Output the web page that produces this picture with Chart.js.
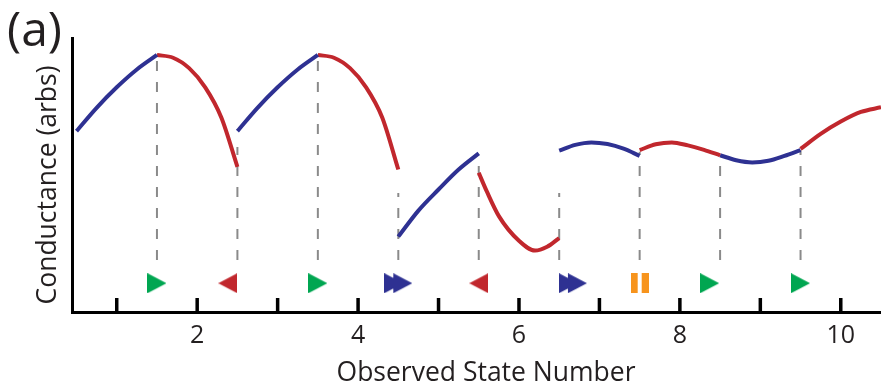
<!DOCTYPE html>
<html>
<head>
<meta charset="utf-8">
<script src="https://cdn.jsdelivr.net/npm/chart.js@4.4.0/dist/chart.umd.min.js"></script>
<style>
  html, body { margin: 0; padding: 0; background: #ffffff; }
  #wrap { width: 881px; height: 392px; overflow: hidden; }
</style>
</head>
<body>
<div id="wrap"><canvas id="chart" width="881" height="392"></canvas></div>
<script>
// ---- data -------------------------------------------------------------
const stateTicks = [1, 2, 3, 4, 5, 6, 7, 8, 9, 10];
const labelledTicks = [2, 4, 6, 8, 10];

// conductance traces, [state number, conductance]
const blueTrace1 = [[0.5, 6.6], [0.75, 7.45], [1.0, 8.2], [1.25, 8.85], [1.5, 9.38]];
const redTrace1  = [[1.5, 9.38], [1.7, 9.28], [1.9, 8.9], [2.1, 8.2], [2.3, 7.1], [2.5, 5.3]];
const blueTrace2 = [[2.5, 6.6], [2.75, 7.45], [3.0, 8.2], [3.25, 8.85], [3.5, 9.38]];
const redTrace2  = [[3.5, 9.38], [3.7, 9.28], [3.9, 8.9], [4.1, 8.2], [4.3, 7.1], [4.5, 5.2]];
const blueTrace3 = [[4.5, 2.75], [4.75, 3.7], [5.0, 4.47], [5.25, 5.2], [5.5, 5.79]];
const redTrace3  = [[5.5, 5.08], [5.6, 4.4], [5.75, 3.5], [6.0, 2.6], [6.2, 2.24], [6.35, 2.38], [6.5, 2.7]];
const blueTrace4 = [[6.5, 5.89], [6.7, 6.1], [6.9, 6.19], [7.1, 6.13], [7.3, 5.96], [7.5, 5.7]];
const redTrace4  = [[7.5, 5.91], [7.7, 6.12], [7.9, 6.19], [8.1, 6.08], [8.3, 5.92], [8.5, 5.72]];
const blueTrace5 = [[8.5, 5.72], [8.7, 5.54], [8.9, 5.46], [9.1, 5.52], [9.3, 5.7], [9.5, 5.91]];
const redTrace5  = [[9.5, 5.95], [9.75, 6.5], [10.0, 6.95], [10.25, 7.3], [10.5, 7.47]];

// state boundaries (dashed guides)
const boundaryX   = [1.5, 2.5, 3.5, 4.5, 5.5, 6.5, 7.5, 8.5, 9.5];
const boundaryTop = [9.38, 6.02, 9.38, 4.34, 5.44, 4.34, 5.85, 5.72, 5.91];
const boundaryBottom = 1.9;

// transport symbols under each state
const markerLevel = 1.05;
const playMarks = [1.5, 3.5, 8.37, 9.5];
const reverseMarks = [2.38, 5.5];
const fastForwardMarks = [4.5, 6.67];
const pauseMarks = [7.5];

// ---- styling ----------------------------------------------------------
const BLUE = '#2e3192';
const RED = '#c1272d';
const GREEN = '#00a651';
const ORANGE = '#f7941d';
const GUIDE = '#8a8a8a';
const INK = '#231f20';
const FONT = '"Open Sans", "Noto Sans", sans-serif';

function icon(w, h, color, paint) {
  const c = document.createElement('canvas');
  c.width = w; c.height = h;
  const g = c.getContext('2d');
  g.fillStyle = color;
  paint(g, w, h);
  return c;
}
function tri(g, x0, x1, h) {
  g.beginPath(); g.moveTo(x0, 0); g.lineTo(x1, h / 2); g.lineTo(x0, h); g.closePath(); g.fill();
}
const playIcon = icon(19, 20, GREEN, (g, w, h) => tri(g, 0, w, h));
const reverseIcon = icon(19, 20, RED, (g, w, h) => tri(g, w, 0, h));
const fastForwardIcon = icon(28, 20, BLUE, (g, w, h) => { tri(g, 0, 19, h); tri(g, 9, 28, h); });
const pauseIcon = icon(18, 20, ORANGE, (g, w, h) => { g.fillRect(0, 0, 7, h); g.fillRect(11, 0, 7, h); });

const toPoints = pts => pts.map(([x, y]) => ({ x, y }));

function trace(pts, color) {
  return {
    data: toPoints(pts), borderColor: color, borderWidth: 4, borderCapStyle: 'butt',
    pointRadius: 0, cubicInterpolationMode: 'monotone', fill: false, order: 0
  };
}
function guide(x, top) {
  return {
    data: [{ x, y: boundaryBottom }, { x, y: top }],
    borderColor: GUIDE, borderWidth: 2, borderDash: [10, 11], borderCapStyle: 'butt',
    pointRadius: 0, fill: false, order: 3
  };
}
function marks(xs, style) {
  return {
    data: xs.map(x => ({ x, y: markerLevel })), showLine: false,
    pointStyle: style, pointRadius: 10, order: 1
  };
}

const datasets = [
  trace(blueTrace1, BLUE), trace(redTrace1, RED),
  trace(blueTrace2, BLUE), trace(redTrace2, RED),
  trace(blueTrace3, BLUE), trace(redTrace3, RED),
  trace(blueTrace4, BLUE), trace(redTrace4, RED),
  trace(blueTrace5, BLUE), trace(redTrace5, RED),
  ...boundaryX.map((x, i) => guide(x, boundaryTop[i])),
  marks(playMarks, playIcon),
  marks(reverseMarks, reverseIcon),
  marks(fastForwardMarks, fastForwardIcon),
  marks(pauseMarks, pauseIcon)
];

// tick marks pointing into the plot, axis titles and the panel tag
const decorations = {
  id: 'decorations',
  afterDatasetsDraw(chart) {
    const { ctx, chartArea, scales: { x } } = chart;
    ctx.save();
    ctx.strokeStyle = '#000';
    ctx.lineWidth = 3.5;
    stateTicks.forEach(v => {
      const px = x.getPixelForValue(v);
      ctx.beginPath();
      ctx.moveTo(px, chartArea.bottom);
      ctx.lineTo(px, chartArea.bottom - 14);
      ctx.stroke();
    });
    ctx.restore();
  },
  afterDraw(chart) {
    const ctx = chart.ctx;
    ctx.save();
    ctx.fillStyle = INK;

    ctx.font = '48px ' + FONT;
    ctx.textAlign = 'left';
    ctx.textBaseline = 'alphabetic';
    ctx.fillText('(a)', 7, 46);

    ctx.font = '26.5px ' + FONT;
    ctx.textAlign = 'center';
    ctx.textBaseline = 'middle';
    ctx.fillText('Observed State Number', 486, 373);

    ctx.translate(48, 185);
    ctx.rotate(-Math.PI / 2);
    ctx.font = '26.5px ' + FONT;
    ctx.fillText('Conductance (arbs)', 0, 0);
    ctx.restore();
  }
};

new Chart(document.getElementById('chart'), {
  type: 'line',
  data: { datasets },
  plugins: [decorations],
  options: {
    responsive: false,
    animation: false,
    layout: { autoPadding: false, padding: { left: 0, right: 0, top: 38, bottom: 0 } },
    plugins: { legend: { display: false }, tooltip: { enabled: false } },
    scales: {
      x: {
        type: 'linear', min: 0.444, max: 10.5,
        afterFit(scale) { scale.height = 80; scale.paddingLeft = 0; scale.paddingRight = 0; },
        grid: { display: false, drawTicks: false },
        border: { display: true, color: '#000', width: 3 },
        ticks: {
          stepSize: 1, includeBounds: false, autoSkip: false, maxRotation: 0, padding: 9,
          color: INK, font: { family: FONT, size: 25 },
          callback: v => labelledTicks.includes(v) ? String(v) : ''
        },
        title: { display: false }
      },
      y: {
        type: 'linear', min: 0, max: 10,
        afterFit(scale) { scale.width = 72; },
        grid: { display: false, drawTicks: false },
        border: { display: true, color: '#000', width: 3 },
        ticks: { display: false },
        title: { display: false }
      }
    }
  }
});
</script>
</body>
</html>
